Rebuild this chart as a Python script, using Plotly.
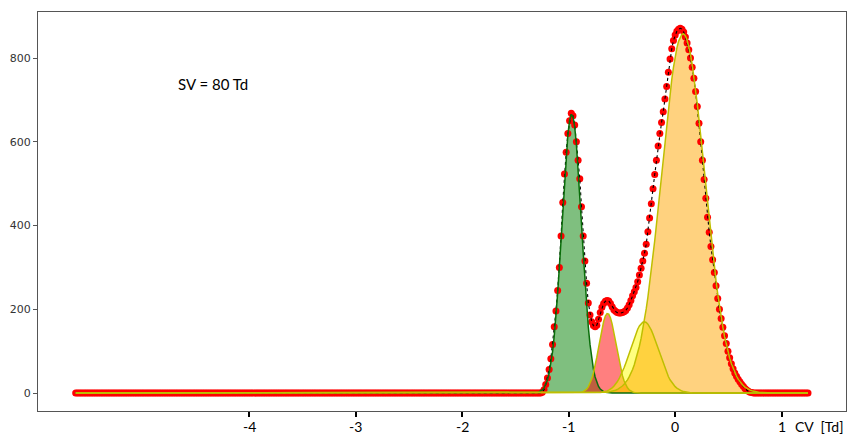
import numpy as np
import plotly.graph_objects as go

# CV grid of the measured ionogram (Td), evenly stepped
cv_first, cv_step, n_points = -5.632, 0.016, 431
cv = np.round(cv_first + cv_step * np.arange(n_points), 3)

# measured intensity in the peak window, starting at CV = -1.296
window_start = -1.296
window_counts = [
    0, 0, 0, 2, 8, 20, 36, 56, 82, 116, 158, 196, 245, 300, 375, 455, 523, 575, 620, 650,
    668, 662, 640, 600, 556, 512, 445, 375, 315, 262, 215, 186, 170, 161, 158, 162, 176, 192, 205, 214,
    219, 221, 220, 214, 206, 199, 195, 192, 191, 191, 192, 194, 197, 203, 211, 221, 232, 242, 252, 266,
    282, 298, 315, 334, 355, 385, 418, 452, 488, 522, 556, 590, 620, 646, 672, 702, 732, 766, 798, 822,
    842, 855, 864, 869, 871, 869, 862, 850, 836, 820, 800, 778, 752, 720, 684, 644, 600, 556, 510, 465,
    420, 384, 350, 318, 288, 256, 226, 200, 178, 157, 137, 118, 100, 84, 70, 58, 48, 40, 33, 27,
    21, 16, 11, 7, 4, 2, 1, 0,
]

# fitted Gaussian components: centre (Td), height, sigma (Td)
comp_names = ["peak 1", "peak 2", "peak 3", "peak 4"]
comp_centers = [-0.972, -0.635, -0.290, 0.074]
comp_heights = [666, 190, 170, 858]
comp_sigmas = [0.092, 0.080, 0.132, 0.203]
comp_fills = ["rgba(0,128,0,0.5)", "rgba(255,0,0,0.5)", "rgba(255,255,0,0.5)", "rgba(255,165,0,0.5)"]
comp_lines = ["#0a6e0a", "#bfbf00", "#bfbf00", "#bfbf00"]

x_ticks = [-4, -3, -2, -1, 0, 1]
x_tick_labels = ["-4", "-3", "-2", "-1", "0", "1"]
y_ticks = [0, 200, 400, 600, 800]

# full measured trace: zero baseline outside the peak window
i0 = int(round((window_start - cv_first) / cv_step))
counts = np.zeros(n_points)
counts[i0:i0 + len(window_counts)] = window_counts

fig = go.Figure()

# component areas sit underneath everything else
curves = []
for c, h, s in zip(comp_centers, comp_heights, comp_sigmas):
    curves.append(h * np.exp(-((cv - c) ** 2) / (2 * s ** 2)))

for name, y, fc in zip(comp_names, curves, comp_fills):
    fig.add_trace(go.Scatter(x=cv, y=y, mode="lines", fill="tozeroy", fillcolor=fc,
                             line=dict(width=0), name=name, hoverinfo="skip"))

# measured points and the dashed trace through them
fig.add_trace(go.Scatter(x=cv, y=counts, mode="markers",
                         marker=dict(color="#ff0000", size=7, line=dict(width=0)),
                         name="measured"))
fig.add_trace(go.Scatter(x=cv, y=counts, mode="lines",
                         line=dict(color="black", width=1.1, dash="3px,3px"),
                         name="envelope"))

# component outlines on top
for name, y, lc in zip(comp_names, curves, comp_lines):
    fig.add_trace(go.Scatter(x=cv, y=y, mode="lines", line=dict(color=lc, width=1.5),
                             name=name, hoverinfo="skip"))

label_font = dict(family="Lato", size=14, color="black")
label_y = -0.0376  # just under the tick marks

annotations = [
    dict(text="SV = 80 Td", xref="paper", yref="paper", x=0.1708, y=0.8195,
         xanchor="left", yanchor="middle", showarrow=False,
         font=dict(family="Lato", size=15, color="black")),
    dict(text="CV  [Td]", xref="paper", yref="paper", x=0.935, y=label_y,
         xanchor="left", yanchor="middle", showarrow=False, font=label_font),
]
for t, lab in zip(x_ticks, x_tick_labels):
    annotations.append(dict(text=lab, xref="x", yref="paper", x=t, y=label_y,
                            xanchor="center", yanchor="middle", showarrow=False,
                            font=label_font))

fig.update_layout(
    width=848, height=435,
    margin=dict(l=38, r=2, t=12, b=24),
    plot_bgcolor="white", paper_bgcolor="white",
    showlegend=False,
    xaxis=dict(
        range=[-5.986, 1.605], showgrid=False, zeroline=False, automargin=False,
        showline=True, linecolor="#555555", linewidth=1.2, mirror=True,
        tickmode="array", tickvals=x_ticks, showticklabels=False,
        ticks="outside", ticklen=5, tickwidth=2, tickcolor="black",
    ),
    yaxis=dict(
        range=[-43, 910], showgrid=False, zeroline=False, automargin=False,
        showline=True, linecolor="#555555", linewidth=1.2, mirror=True,
        tickmode="array", tickvals=y_ticks,
        ticks="outside", ticklen=4, tickwidth=1, tickcolor="#555555",
        tickfont=dict(family="DejaVu Sans", size=11, color="#333333"),
    ),
    annotations=annotations,
)

fig.write_html("out.html")
